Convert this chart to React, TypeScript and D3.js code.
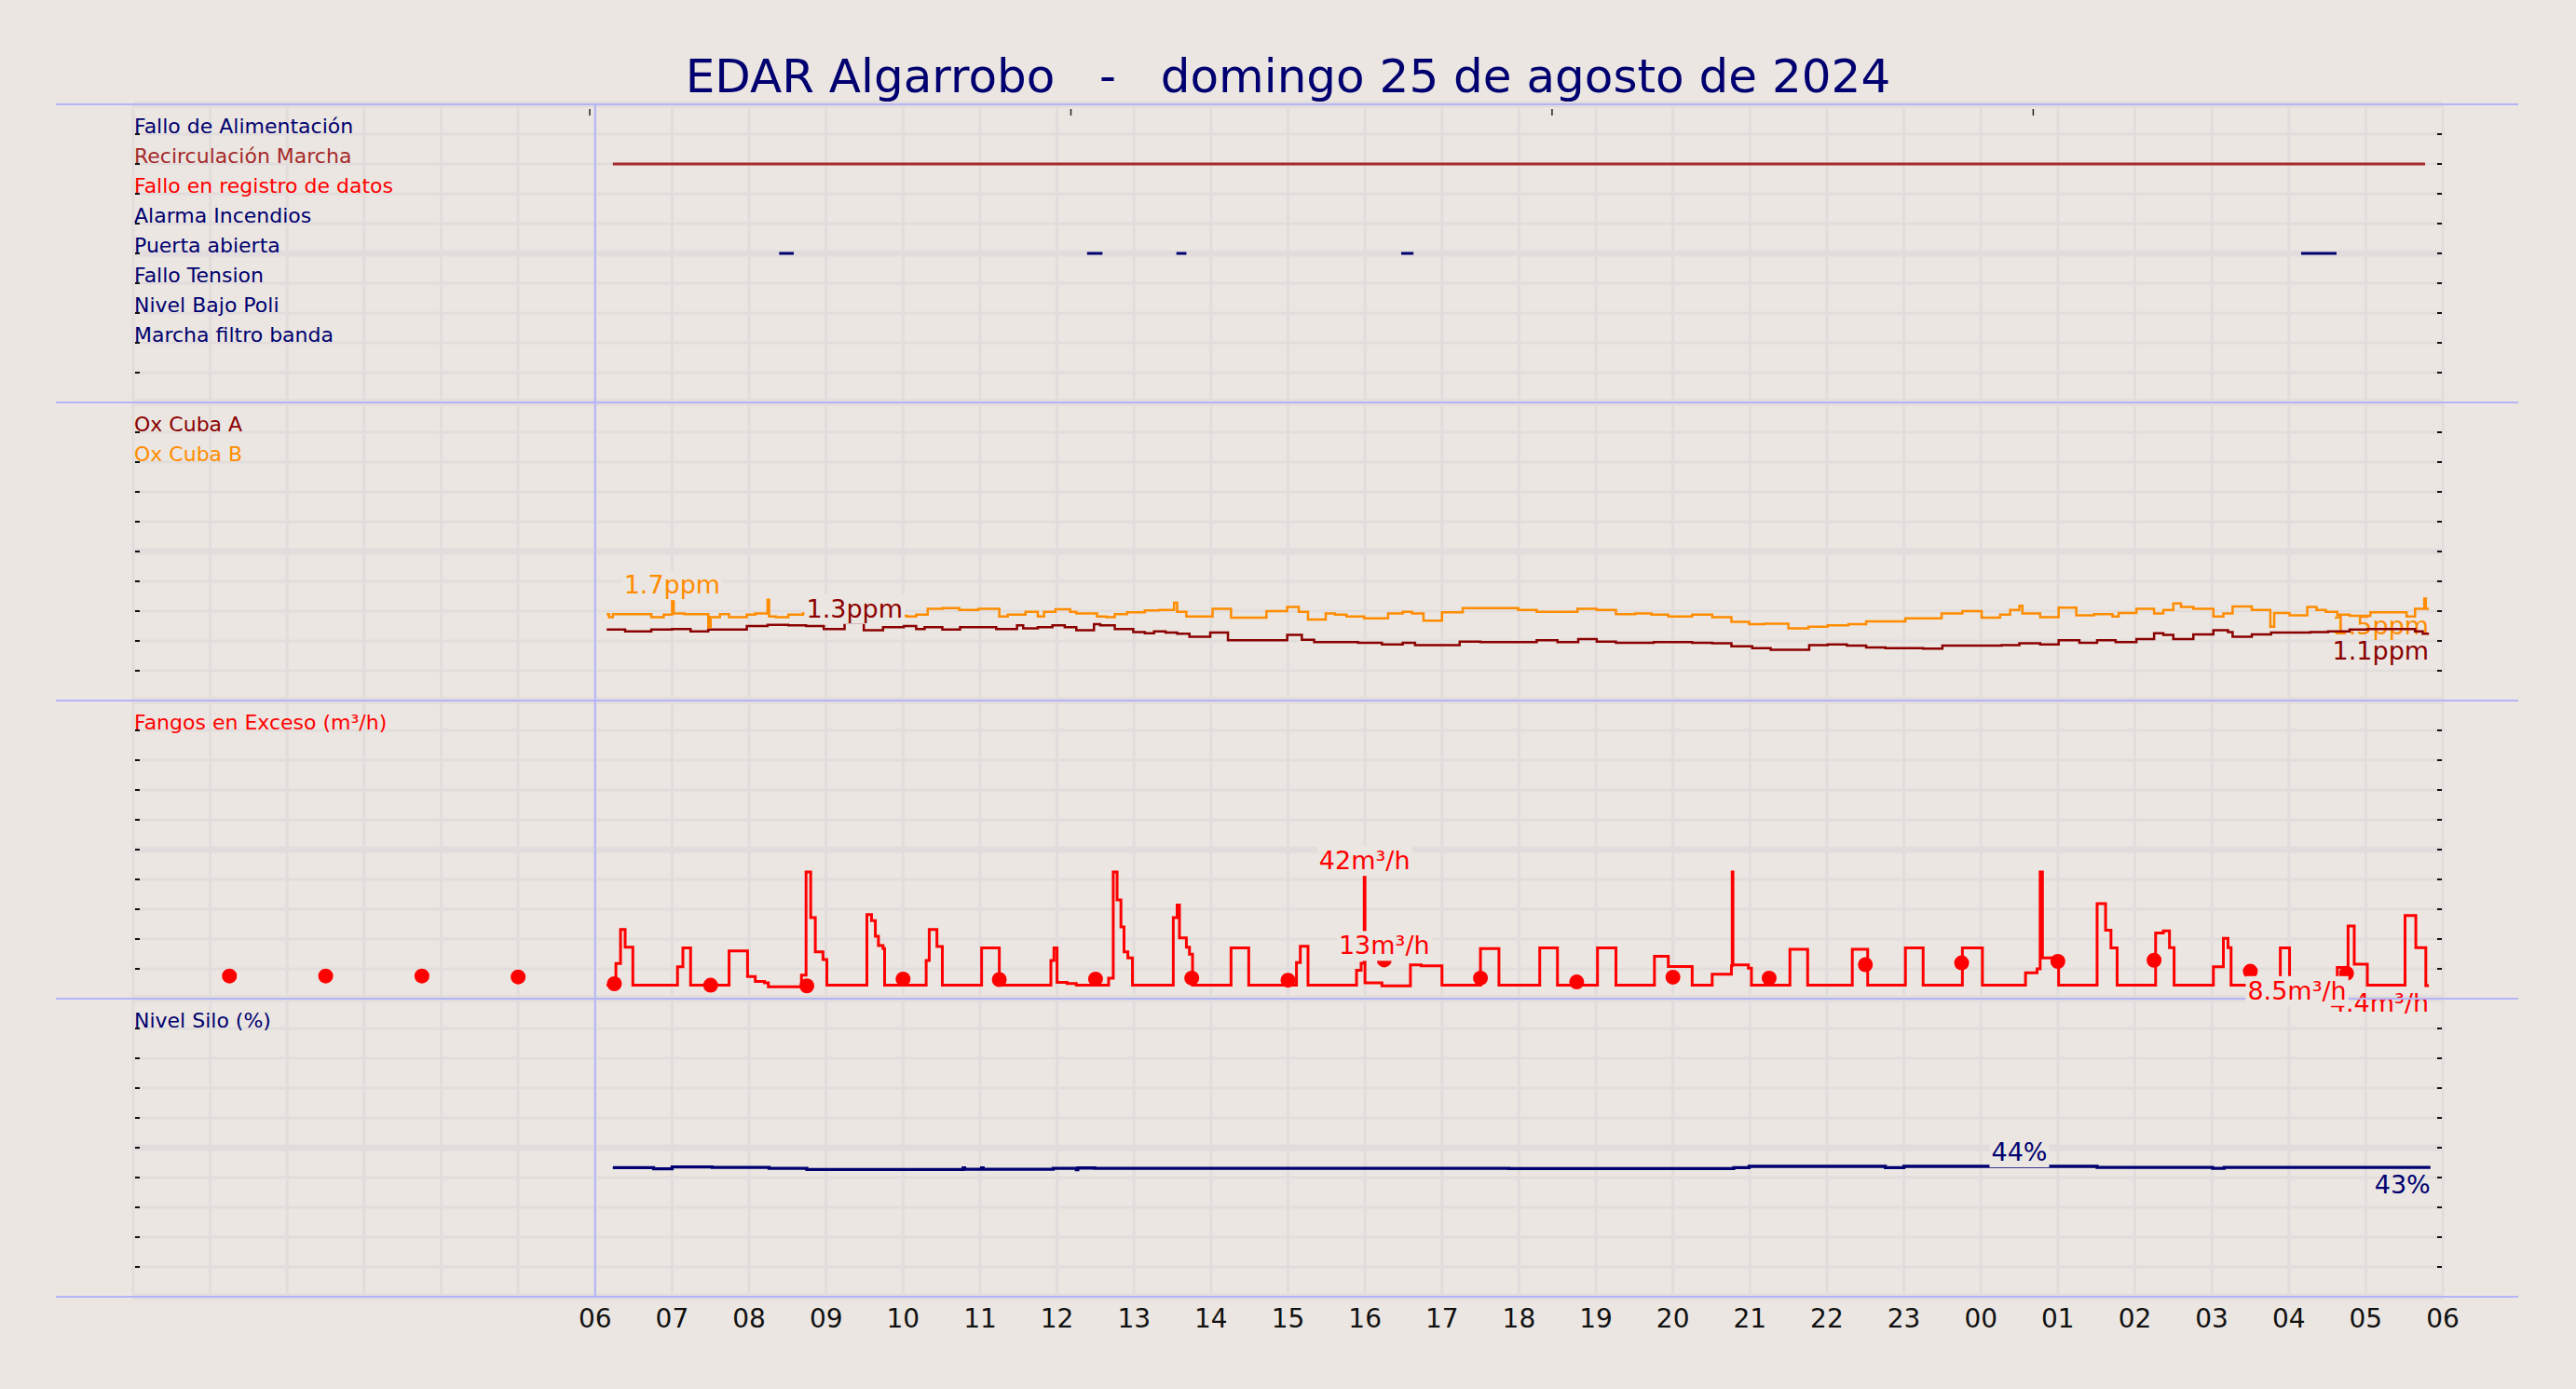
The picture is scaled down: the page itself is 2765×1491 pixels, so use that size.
import { useEffect, useRef } from 'react';
import * as d3 from 'd3';

// ─── Data ───────────────────────────────────────────────────

const TITLE = 'EDAR Algarrobo   -   domingo 25 de agosto de 2024';

// hours from 00:00 of the day shown; axis spans 0..30 h
const hourTicks = [6, 7, 8, 9, 10, 11, 12, 13, 14, 15, 16, 17, 18, 19, 20, 21, 22, 23, 24, 25, 26, 27, 28, 29, 30];
const hourLabels = ['06', '07', '08', '09', '10', '11', '12', '13', '14', '15', '16', '17', '18', '19', '20', '21', '22', '23', '00', '01', '02', '03', '04', '05', '06'];
const topTickHours = [5.93, 12.18, 18.43, 24.68];

const alarmNames = [
  'Fallo de Alimentación',
  'Recirculación Marcha',
  'Fallo en registro de datos',
  'Alarma Incendios',
  'Puerta abierta',
  'Fallo Tension',
  'Nivel Bajo Poli',
  'Marcha filtro banda',
];

// on-intervals [start, end] in hours
const recirculacionOn: [number, number][] = [[6.23, 29.77]];
const puertaAbiertaOn: [number, number][] = [
  [8.39, 8.58], [12.39, 12.59], [13.55, 13.68], [16.47, 16.63], [28.16, 28.62],
];

// Ox Cuba A (ppm), step series [hour, value]
const oxCubaA: [number, number][] = [
  [6.15, 1.19], [6.39, 1.16], [6.73, 1.19], [7.0, 1.2], [7.24, 1.16], [7.47, 1.19], [7.97, 1.25],
  [8.24, 1.27], [8.51, 1.26], [8.74, 1.25], [8.97, 1.2], [9.24, 1.3], [9.49, 1.18], [9.74, 1.23],
  [10.01, 1.25], [10.17, 1.2], [10.28, 1.23], [10.51, 1.19], [10.74, 1.23], [11.21, 1.2], [11.48, 1.26],
  [11.56, 1.21], [11.75, 1.23], [11.94, 1.26], [12.1, 1.23], [12.25, 1.18], [12.48, 1.28], [12.56, 1.26],
  [12.75, 1.2], [12.99, 1.15], [13.14, 1.13], [13.26, 1.16], [13.41, 1.14], [13.56, 1.12], [13.72, 1.07],
  [13.99, 1.14], [14.22, 1.01], [14.99, 1.1], [15.18, 1.02], [15.34, 0.98], [15.91, 0.97], [16.22, 0.94],
  [16.49, 0.97], [16.65, 0.93], [17.23, 0.99], [17.5, 0.98], [18.23, 1.01], [18.5, 0.98], [18.77, 1.03],
  [19.01, 0.99], [19.26, 0.97], [19.75, 0.98], [20.25, 0.97], [20.51, 0.96], [20.76, 0.91], [21.03, 0.88],
  [21.27, 0.85], [21.77, 0.93], [22.01, 0.94], [22.26, 0.92], [22.51, 0.89], [22.76, 0.88], [23.25, 0.87],
  [23.5, 0.92], [24.27, 0.93], [24.5, 0.96], [24.77, 0.94], [25.01, 1.01], [25.28, 0.97], [25.51, 1.01],
  [25.75, 0.98], [26.02, 1.03], [26.25, 1.13], [26.37, 1.1], [26.5, 1.03], [26.76, 1.11], [27.02, 1.18],
  [27.21, 1.15], [27.27, 1.07], [27.52, 1.11], [27.77, 1.14], [28.28, 1.15], [28.51, 1.16], [28.79, 1.19],
  [29.02, 1.2], [29.64, 1.16], [29.74, 1.12], [29.82, 1.12],
];

// Ox Cuba B (ppm)
const oxCubaB: [number, number][] = [
  [6.15, 1.45], [6.18, 1.4], [6.23, 1.45], [6.73, 1.4], [6.89, 1.44], [7.0, 1.7], [7.02, 1.46], [7.16, 1.45],
  [7.47, 1.23], [7.5, 1.4], [7.62, 1.45], [7.74, 1.4], [7.97, 1.44], [8.08, 1.46], [8.24, 1.69], [8.26, 1.41],
  [8.35, 1.4], [8.51, 1.44], [8.7, 1.46], [9.2, 1.44], [9.6, 1.42], [10.05, 1.41], [10.17, 1.44], [10.32, 1.54],
  [10.51, 1.55], [10.73, 1.52], [10.98, 1.54], [11.25, 1.41], [11.36, 1.44], [11.59, 1.49], [11.75, 1.41],
  [11.83, 1.49], [11.98, 1.53], [12.17, 1.49], [12.25, 1.46], [12.52, 1.41], [12.64, 1.4], [12.75, 1.45],
  [12.91, 1.48], [13.14, 1.51], [13.33, 1.52], [13.52, 1.64], [13.56, 1.49], [13.68, 1.41], [14.02, 1.54],
  [14.26, 1.39], [14.72, 1.5], [14.99, 1.57], [15.14, 1.49], [15.26, 1.36], [15.49, 1.46], [15.61, 1.44],
  [15.76, 1.41], [15.99, 1.38], [16.3, 1.46], [16.49, 1.49], [16.61, 1.46], [16.76, 1.34], [17.0, 1.48],
  [17.27, 1.55], [17.99, 1.52], [18.23, 1.49], [18.76, 1.54], [19.01, 1.52], [19.26, 1.45], [19.51, 1.46],
  [19.72, 1.44], [19.94, 1.41], [20.25, 1.44], [20.51, 1.4], [20.76, 1.32], [20.99, 1.28], [21.19, 1.29],
  [21.5, 1.21], [21.76, 1.24], [22.01, 1.26], [22.28, 1.28], [22.51, 1.33], [23.02, 1.38], [23.49, 1.46],
  [23.76, 1.5], [24.01, 1.39], [24.25, 1.44], [24.38, 1.52], [24.5, 1.59], [24.54, 1.46], [24.77, 1.4],
  [25.01, 1.56], [25.24, 1.43], [25.47, 1.45], [25.71, 1.41], [25.79, 1.47], [26.02, 1.54], [26.25, 1.46],
  [26.37, 1.52], [26.5, 1.63], [26.6, 1.57], [26.76, 1.54], [27.02, 1.41], [27.15, 1.46], [27.27, 1.58],
  [27.52, 1.52], [27.76, 1.24], [27.81, 1.47], [28.01, 1.43], [28.24, 1.57], [28.36, 1.52], [28.48, 1.49],
  [28.63, 1.44], [28.79, 1.42], [29.06, 1.48], [29.53, 1.41], [29.64, 1.54], [29.76, 1.71], [29.78, 1.54],
  [29.82, 1.54],
];

// Fangos en Exceso (m³/h)
const fangos: [number, number][] = [
  [6.15, 4.5], [6.27, 11.8], [6.33, 23.2], [6.39, 17.3], [6.49, 4.5], [7.07, 10.7], [7.14, 17.0], [7.24, 4.5],
  [7.74, 16.0], [7.98, 7.4], [8.08, 5.8], [8.2, 5.3], [8.25, 4.0], [8.68, 7.9], [8.74, 42.5], [8.8, 27.2],
  [8.86, 15.7], [8.96, 13.1], [9.01, 4.5], [9.53, 28.2], [9.59, 26.2], [9.64, 20.9], [9.68, 17.8], [9.74, 16.8],
  [9.76, 4.5], [10.3, 12.8], [10.34, 23.2], [10.44, 17.5], [10.51, 4.5], [11.02, 17.0], [11.25, 4.5],
  [11.92, 12.8], [11.96, 17.0], [12.0, 5.5], [12.13, 5.1], [12.25, 4.5], [12.67, 6.9], [12.73, 42.5],
  [12.78, 33.1], [12.83, 24.1], [12.87, 15.7], [12.92, 13.7], [12.98, 4.5], [13.51, 27.2], [13.56, 31.4],
  [13.59, 20.4], [13.68, 17.3], [13.72, 14.9], [13.76, 4.5], [14.26, 17.0], [14.49, 4.5], [15.11, 12.1],
  [15.16, 17.6], [15.26, 4.5], [15.89, 9.5], [15.95, 11.9], [15.99, 41.5], [16.0, 5.3], [16.22, 4.3],
  [16.59, 11.3], [16.73, 11.0], [17.0, 4.5], [17.5, 16.8], [17.74, 4.5], [18.27, 17.0], [18.5, 4.5],
  [19.02, 17.0], [19.26, 4.5], [19.76, 14.2], [19.94, 10.8], [20.25, 4.5], [20.51, 8.2], [20.76, 11.0],
  [20.77, 42.5], [20.78, 11.3], [20.98, 10.2], [21.02, 4.5], [21.52, 16.6], [21.75, 4.5], [22.33, 16.6],
  [22.53, 4.5], [23.02, 17.0], [23.25, 4.5], [23.76, 17.0], [24.02, 4.5], [24.58, 8.7], [24.73, 10.0],
  [24.77, 42.5], [24.8, 13.7], [25.01, 4.5], [25.51, 31.9], [25.62, 23.0], [25.69, 17.0], [25.77, 4.5],
  [26.27, 22.0], [26.37, 22.7], [26.45, 17.1], [26.51, 4.5], [27.02, 10.7], [27.15, 20.2], [27.21, 17.1],
  [27.25, 4.5], [27.89, 17.0], [28.01, 4.5], [28.63, 10.5], [28.77, 24.4], [28.85, 11.6], [29.02, 4.5],
  [29.51, 27.9], [29.65, 17.1], [29.78, 4.4], [29.82, 4.4],
];

// Fangos, periodic readings (m³/h)
const fangosDotHours = [
  1.25, 2.5, 3.75, 5, 6.25, 7.5, 8.75, 10, 11.25, 12.5, 13.75, 15, 16.25, 17.5, 18.75, 20, 21.25, 22.5,
  23.75, 25, 26.25, 27.5, 28.75,
];
const fangosDotValues = [
  7.6, 7.6, 7.6, 7.3, 5.0, 4.5, 4.3, 6.6, 6.4, 6.6, 6.9, 6.2, 13.0, 6.9, 5.6, 7.2, 6.9, 11.4, 12.0, 12.5,
  12.9, 9.2, 8.5,
];

// Nivel Silo (%)
const nivelSilo: [number, number][] = [
  [6.23, 43.33], [6.76, 42.9], [7.0, 43.55], [7.52, 43.4], [8.26, 43.1], [8.75, 42.7], [10.78, 43.2],
  [10.8, 42.8], [11.02, 43.2], [11.04, 42.8], [11.95, 43.1], [12.25, 42.6], [12.27, 43.2], [12.49, 43.1],
  [17.87, 43.0], [20.79, 43.33], [20.99, 43.75], [22.76, 43.33], [23.0, 43.75], [25.51, 43.4],
  [27.01, 43.1], [27.16, 43.4], [29.84, 43.4],
];

// value annotations: peaks (above the point) and last values (below the end)
const peakLabels = [
  { series: 'oxB', h: 7.0, v: 1.7, text: '1.7ppm' },
  { series: 'oxA', h: 9.37, v: 1.3, text: '1.3ppm' },
  { series: 'fangos', h: 15.995, v: 41.5, text: '42m³/h' },
  { series: 'dots', h: 16.25, v: 13.0, text: '13m³/h' },
  { series: 'silo', h: 24.5, v: 43.75, text: '44%' },
];
const lastLabels = [
  { series: 'oxB', h: 29.82, v: 1.54, text: '1.5ppm' },
  { series: 'oxA', h: 29.82, v: 1.12, text: '1.1ppm' },
  { series: 'fangos', h: 29.82, v: 4.4, text: '4.4m³/h' },
  { series: 'silo', h: 29.84, v: 43.4, text: '43%' },
];
const lastDotLabel = { series: 'dots', h: 28.75, v: 8.5, text: '8.5m³/h' };

// ─── Layout / style ─────────────────────────────────────────

const W = 2765;
const H = 1491;
const FONT = '"DejaVu Sans", Verdana, sans-serif';
const BG = '#ebe6e1';
const GRID = '#e2dddc';
const SEP = '#b4b4f8';
const NAVY = '#000070';
const COLORS: Record<string, string> = {
  oxA: '#8b0000',
  oxB: '#ff8c00',
  fangos: '#ff0000',
  dots: '#ff0000',
  silo: NAVY,
};
const alarmColors = [NAVY, '#a52a2a', '#ff0000', NAVY, NAVY, NAVY, NAVY, NAVY];

const X0 = 143;
const X1 = 2622;
const TOP = 112;
const PANEL_H = 320;

export default function App() {
  const svgRef = useRef<SVGSVGElement>(null);

  useEffect(() => {
    document.body.style.margin = '0';
    document.body.style.background = BG;
    if (!svgRef.current) return;
    const svg = d3.select(svgRef.current);
    svg.selectAll('*').remove();

    const x = d3.scaleLinear().domain([0, 30]).range([X0, X1]);
    const pTop = (i: number) => TOP + PANEL_H * i;
    const yAlarm = d3.scaleLinear().domain([0, 10]).range([pTop(0), pTop(1)]);
    const yOx = d3.scaleLinear().domain([0, 5]).range([pTop(2), pTop(1)]);
    const yF = d3.scaleLinear().domain([0, 100]).range([pTop(3), pTop(2)]);
    const yS = d3.scaleLinear().domain([0, 100]).range([pTop(4), pTop(3)]);
    const scales = [yAlarm, yOx, yF, yS];
    const yOf: Record<string, d3.ScaleLinear<number, number>> = {
      oxA: yOx, oxB: yOx, fangos: yF, dots: yF, silo: yS,
    };

    svg.append('rect').attr('width', W).attr('height', H).attr('fill', BG);

    // Grid
    const grid = svg.append('g');
    grid.selectAll('line.v').data(x.ticks(30)).join('line')
      .attr('x1', (d) => x(d)).attr('x2', (d) => x(d))
      .attr('y1', pTop(0)).attr('y2', pTop(4))
      .attr('stroke', GRID).attr('stroke-width', 3);
    scales.forEach((ys) => {
      const t = ys.ticks(10);
      grid.append('g').selectAll('line').data(t).join('line')
        .attr('x1', X0).attr('x2', X1)
        .attr('y1', (d) => ys(d)).attr('y2', (d) => ys(d))
        .attr('stroke', GRID)
        .attr('stroke-width', (_d, i) => (i % 5 === 0 ? 7 : 3));
      // small ticks on both sides
      const inner = t.slice(1, -1);
      grid.append('g').selectAll('line').data(inner).join('line')
        .attr('x1', X0 + 2).attr('x2', X0 + 7)
        .attr('y1', (d) => ys(d)).attr('y2', (d) => ys(d))
        .attr('stroke', '#111').attr('stroke-width', 2);
      grid.append('g').selectAll('line').data(inner).join('line')
        .attr('x1', X1 - 6).attr('x2', X1 - 1)
        .attr('y1', (d) => ys(d)).attr('y2', (d) => ys(d))
        .attr('stroke', '#111').attr('stroke-width', 2);
    });
    grid.selectAll('line.tt').data(topTickHours).join('line')
      .attr('x1', (d) => x(d)).attr('x2', (d) => x(d))
      .attr('y1', pTop(0) + 5).attr('y2', pTop(0) + 12)
      .attr('stroke', '#222').attr('stroke-width', 1.5);

    // Panel names
    const names = svg.append('g').attr('font-family', FONT).attr('font-size', 22);
    alarmNames.forEach((n, i) => {
      names.append('text').attr('x', X0 + 1).attr('y', yAlarm(i + 1) - 1)
        .attr('fill', alarmColors[i]).text(n);
    });
    names.append('text').attr('x', X0 + 1).attr('y', yOx(4.5) - 1).attr('fill', COLORS.oxA).text('Ox Cuba A');
    names.append('text').attr('x', X0 + 1).attr('y', yOx(4) - 1).attr('fill', COLORS.oxB).text('Ox Cuba B');
    names.append('text').attr('x', X0 + 1).attr('y', yF(90) - 1).attr('fill', COLORS.fangos).text('Fangos en Exceso (m³/h)');
    names.append('text').attr('x', X0 + 1).attr('y', yS(90) - 1).attr('fill', NAVY).text('Nivel Silo (%)');

    // Last-value labels (under the lines)
    const labels = svg.append('g').attr('font-family', FONT).attr('font-size', 27);
    lastLabels.forEach((l) => {
      labels.append('text').attr('x', x(l.h)).attr('y', yOf[l.series](l.v) + 28)
        .attr('text-anchor', 'end').attr('fill', COLORS[l.series]).text(l.text);
    });

    // Alarm signals
    const sig = svg.append('g').attr('stroke-width', 3);
    const drawSignal = (on: [number, number][], row: number, color: string) => {
      sig.append('g').selectAll('line').data(on).join('line')
        .attr('x1', (d) => x(d[0])).attr('x2', (d) => x(d[1]))
        .attr('y1', yAlarm(row)).attr('y2', yAlarm(row))
        .attr('stroke', color);
    };
    drawSignal(recirculacionOn, 2, alarmColors[1]);
    drawSignal(puertaAbiertaOn, 5, alarmColors[4]);

    // Lines
    const step = (ys: d3.ScaleLinear<number, number>) => d3.line<[number, number]>()
      .x((d) => x(d[0])).y((d) => ys(d[1])).curve(d3.curveStepAfter);
    const drawLine = (data: [number, number][], ys: d3.ScaleLinear<number, number>, color: string, w: number) => {
      svg.append('path').datum(data)
        .attr('fill', 'none').attr('stroke', color).attr('stroke-width', w)
        .attr('stroke-linejoin', 'miter').attr('d', step(ys));
    };
    drawLine(oxCubaA, yOx, COLORS.oxA, 2.5);
    drawLine(oxCubaB, yOx, COLORS.oxB, 2.5);
    drawLine(fangos, yF, COLORS.fangos, 3);
    drawLine(nivelSilo, yS, COLORS.silo, 3.3);

    svg.append('g').selectAll('circle').data(fangosDotHours).join('circle')
      .attr('cx', (d) => x(d)).attr('cy', (_d, i) => yF(fangosDotValues[i]))
      .attr('r', 8).attr('fill', COLORS.dots);

    // Separators
    const sepG = svg.append('g').attr('stroke', SEP).attr('stroke-width', 2);
    sepG.selectAll('line').data(d3.range(5)).join('line')
      .attr('x1', 60).attr('x2', 2703)
      .attr('y1', (d) => pTop(d)).attr('y2', (d) => pTop(d));
    sepG.append('line').attr('x1', x(6)).attr('x2', x(6))
      .attr('y1', pTop(0)).attr('y2', pTop(4));

    // Boxed labels
    const boxed = svg.append('g').attr('font-family', FONT).attr('font-size', 27);
    const boxedLabel = (l: { series: string; h: number; v: number; text: string }, anchor: string, dy: number) => {
      const g = boxed.append('g');
      const rect = g.append('rect').attr('fill', BG);
      const t = g.append('text').attr('x', x(l.h)).attr('y', yOf[l.series](l.v) + dy)
        .attr('text-anchor', anchor).attr('fill', COLORS[l.series]).text(l.text);
      const bb = (t.node() as SVGTextElement).getBBox();
      rect.attr('x', bb.x - 2).attr('y', bb.y).attr('width', bb.width + 4).attr('height', bb.height + 1);
    };
    peakLabels.forEach((l) => boxedLabel(l, 'middle', -6));
    boxedLabel(lastDotLabel, 'end', 28);

    // X axis labels
    svg.append('g').attr('font-family', FONT).attr('font-size', 28).attr('fill', '#111')
      .selectAll('text').data(hourTicks).join('text')
      .attr('x', (d) => x(d)).attr('y', 1425).attr('text-anchor', 'middle')
      .text((_d, i) => hourLabels[i]);

    // Title
    svg.append('text').attr('x', W / 2).attr('y', 99)
      .attr('text-anchor', 'middle').attr('font-family', FONT).attr('font-size', 50)
      .attr('fill', NAVY).style('white-space', 'pre').text(TITLE);
  }, []);

  return <svg ref={svgRef} width={W} height={H} style={{ display: 'block' }} />;
}
